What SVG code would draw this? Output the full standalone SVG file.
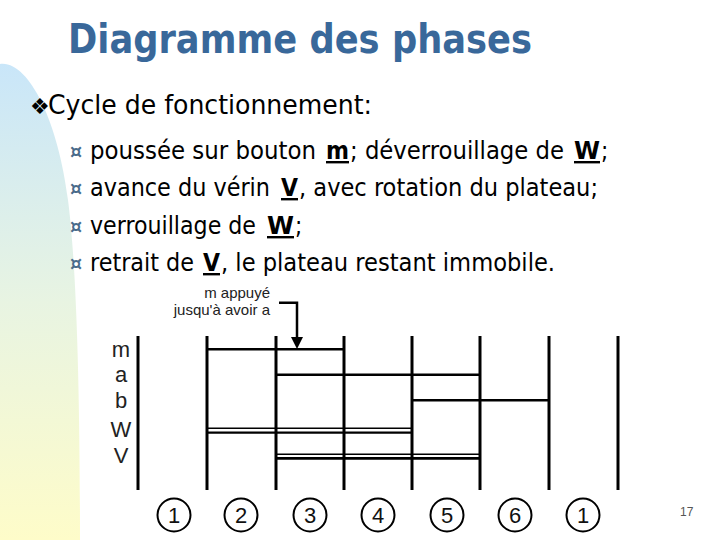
<svg xmlns="http://www.w3.org/2000/svg" width="720" height="540" viewBox="0 0 720 540">
<defs>
<linearGradient id="bg" x1="0" y1="0" x2="0" y2="1">
<stop offset="0" stop-color="#c9e6f9"/>
<stop offset="0.5" stop-color="#e8f4e2"/>
<stop offset="1" stop-color="#fefcc9"/>
</linearGradient>
<style>
.title{font-family:"DejaVu Sans",Verdana,sans-serif;font-weight:bold;font-size:40px;fill:#39689a}
.body{font-family:"DejaVu Sans Condensed","DejaVu Sans",Tahoma,sans-serif;font-stretch:condensed;fill:#000}
.t{font-family:"DejaVu Sans Condensed","DejaVu Sans",Tahoma,sans-serif;font-stretch:condensed;font-size:24px;fill:#000}
.b{font-weight:bold;text-decoration:underline}
.sub{font-family:"DejaVu Sans",sans-serif;font-size:19px;font-weight:bold;fill:#4a6b8a}
.lab{font-family:"Liberation Sans",Arial,sans-serif;font-size:22px;fill:#222}
.note{font-family:"Liberation Sans",Arial,sans-serif;font-size:15px;fill:#222}
.num{font-family:"Liberation Sans",Arial,sans-serif;font-size:22px;fill:#111;text-anchor:middle}
.v{stroke:#000;stroke-width:3;fill:none}
.h{stroke:#000;stroke-width:2.5;fill:none}
.c{stroke:#000;stroke-width:2;fill:#fff}
</style>
</defs>
<rect width="720" height="540" fill="#fff"/>
<path d="M0,64 C28,60 58,120 68,200 C77,270 80,400 80,540 L0,540 Z" fill="url(#bg)"/>

<text class="title" x="68" y="53" textLength="464" lengthAdjust="spacingAndGlyphs">Diagramme des phases</text>

<text x="30" y="114" font-size="22" font-family="DejaVu Sans,sans-serif">❖</text>
<text class="body" x="48" y="114" font-size="26" textLength="324" lengthAdjust="spacingAndGlyphs">Cycle de fonctionnement:</text>

<text class="sub" x="70" y="158">¤</text>
<text class="t" x="90" y="159" textLength="226" lengthAdjust="spacingAndGlyphs">poussée sur bouton</text>
<text class="t b" x="326" y="159" textLength="23" lengthAdjust="spacingAndGlyphs">m</text>
<text class="t" x="350" y="159" textLength="214" lengthAdjust="spacingAndGlyphs">; déverrouillage de</text>
<text class="t b" x="574" y="159" textLength="26" lengthAdjust="spacingAndGlyphs">W</text>
<text class="t" x="601" y="159">;</text>

<text class="sub" x="70" y="195">¤</text>
<text class="t" x="90" y="196" textLength="180" lengthAdjust="spacingAndGlyphs">avance du vérin</text>
<text class="t b" x="281" y="196" textLength="17" lengthAdjust="spacingAndGlyphs">V</text>
<text class="t" x="299" y="196" textLength="299" lengthAdjust="spacingAndGlyphs">, avec rotation du plateau;</text>

<text class="sub" x="70" y="233">¤</text>
<text class="t" x="90" y="234" textLength="166" lengthAdjust="spacingAndGlyphs">verrouillage de</text>
<text class="t b" x="267" y="234" textLength="27" lengthAdjust="spacingAndGlyphs">W</text>
<text class="t" x="295" y="234">;</text>

<text class="sub" x="70" y="270">¤</text>
<text class="t" x="90" y="271" textLength="104" lengthAdjust="spacingAndGlyphs">retrait de</text>
<text class="t b" x="203" y="271" textLength="17" lengthAdjust="spacingAndGlyphs">V</text>
<text class="t" x="221" y="271" textLength="334" lengthAdjust="spacingAndGlyphs">, le plateau restant immobile.</text>

<g id="signals">
<text class="lab" x="121" y="357" text-anchor="middle">m</text>
<text class="lab" x="121" y="382" text-anchor="middle">a</text>
<text class="lab" x="121" y="408" text-anchor="middle">b</text>
<text class="lab" x="121" y="437" text-anchor="middle">W</text>
<text class="lab" x="121" y="463" text-anchor="middle">V</text>
</g>

<g id="note">
<text class="note" x="270" y="298" text-anchor="end">m appuyé</text>
<text class="note" x="270" y="315" text-anchor="end">jusqu'à avoir a</text>
</g>

<g id="connectors">
<line class="v" x1="138" y1="336" x2="138" y2="490"/>
<line class="v" x1="207" y1="336" x2="207" y2="490"/>
<line class="v" x1="276" y1="336" x2="276" y2="490"/>
<line class="v" x1="344" y1="336" x2="344" y2="490"/>
<line class="v" x1="412" y1="336" x2="412" y2="490"/>
<line class="v" x1="480" y1="336" x2="480" y2="490"/>
<line class="v" x1="549" y1="336" x2="549" y2="490"/>
<line class="v" x1="618" y1="336" x2="618" y2="490"/>

<line class="h" x1="207" y1="349.3" x2="344" y2="349.3"/>
<line class="h" x1="276" y1="374.7" x2="480" y2="374.7"/>
<line class="h" x1="412" y1="400.3" x2="549" y2="400.3"/>
<line stroke="#000" stroke-width="1.6" x1="207" y1="428.3" x2="412" y2="428.3"/>
<line stroke="#000" stroke-width="2.2" x1="207" y1="432.6" x2="412" y2="432.6"/>
<line stroke="#000" stroke-width="1.6" x1="276" y1="454.2" x2="480" y2="454.2"/>
<line stroke="#000" stroke-width="2.8" x1="276" y1="458.3" x2="480" y2="458.3"/>

<polyline points="279,302.7 297,302.7 297,338" fill="none" stroke="#000" stroke-width="2.5"/>
<polygon points="291,337 303,337 297,349" fill="#000"/>
</g>

<g id="phase1"><circle class="c" cx="174" cy="515" r="16.5"/><text class="num" x="174" y="523">1</text></g>
<g id="phase2"><circle class="c" cx="241" cy="515" r="16.5"/><text class="num" x="241" y="523">2</text></g>
<g id="phase3"><circle class="c" cx="310" cy="515" r="16.5"/><text class="num" x="310" y="523">3</text></g>
<g id="phase4"><circle class="c" cx="378" cy="515" r="16.5"/><text class="num" x="378" y="523">4</text></g>
<g id="phase5"><circle class="c" cx="447" cy="515" r="16.5"/><text class="num" x="447" y="523">5</text></g>
<g id="phase6"><circle class="c" cx="515" cy="515" r="16.5"/><text class="num" x="515" y="523">6</text></g>
<g id="phase7"><circle class="c" cx="583" cy="515" r="16.5"/><text class="num" x="583" y="523">1</text></g>

<text x="680" y="516" font-family="Liberation Sans,Arial,sans-serif" font-size="12" fill="#555">17</text>
</svg>
